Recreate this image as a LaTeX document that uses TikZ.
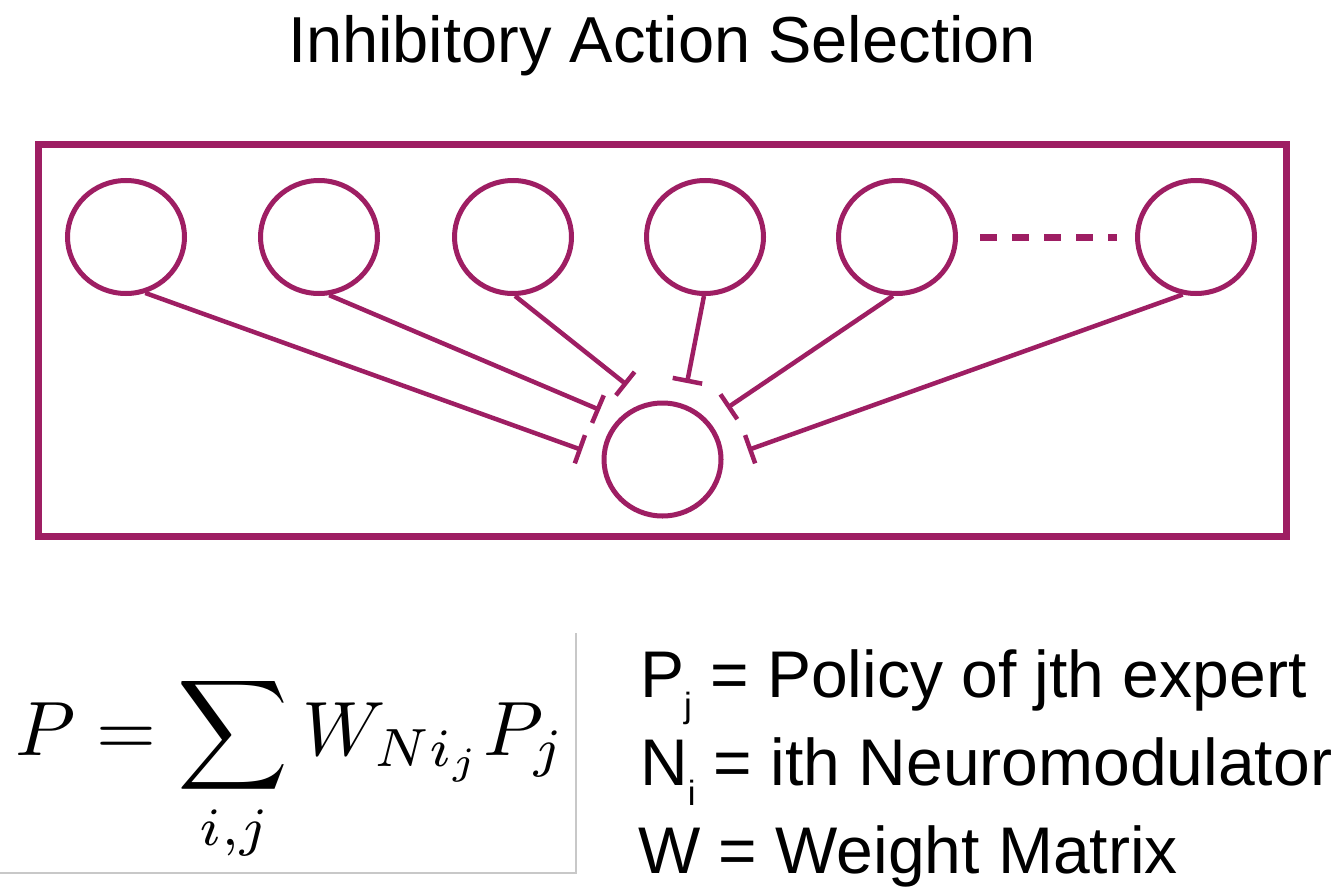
\documentclass[tikz,border=0pt]{standalone}
\usepackage{fontspec}
\setmainfont{Liberation Sans}
\usepackage{amsmath}
\usepackage{graphicx}
\usetikzlibrary{shapes.geometric,arrows.meta}
\definecolor{mag}{RGB}{158,30,99}
\definecolor{sepgray}{RGB}{200,200,200}
\tikzset{
  neuron/.style={ellipse,draw=mag,line width=5pt,minimum width=117pt,minimum height=113pt,inner sep=0pt},
  inh/.style={draw=mag,line width=4.5pt,-{Bar[width=30pt]}},
  legend/.style={anchor=base west,inner sep=0pt,font=\fontsize{66}{72}\selectfont},
}
\newcommand{\subdown}[1]{\raisebox{-20pt}{\fontsize{35}{35}\selectfont #1}}
\begin{document}
\begin{tikzpicture}[x=1pt,y=-1pt]
\useasboundingbox (0,0) rectangle (1343,888);
\fill[white] (0,0) rectangle (1343,888);
% title
\node[anchor=base,inner sep=0pt,font=\fontsize{65}{72}\selectfont] (title) at (662,63) {Inhibitory Action Selection};
% frame
\draw[mag,line width=7pt] (38,144) rectangle (1286,536);
% neurons
\node[neuron] (c1) at (126,237) {};
\node[neuron] (c2) at (319,237) {};
\node[neuron] (c3) at (513,237) {};
\node[neuron] (c4) at (705,237) {};
\node[neuron] (c5) at (897,237) {};
\node[neuron] (c6) at (1196,237) {};
\node[neuron] (out) at (662.5,459.5) {};
% dashed ellipsis
\coordinate (d1) at (980,237);
\coordinate (d2) at (1117,237);
\draw[mag,line width=7pt,dash pattern=on 17pt off 15pt] (d1) -- (d2);
% inhibitory connector ends
\coordinate (t1) at (582,450);
\coordinate (t2) at (600,410);
\coordinate (t3) at (627,385);
\coordinate (t4) at (687,383);
\coordinate (t5) at (727,408);
\coordinate (t6) at (748,450);
\draw[inh] (c1.-71) -- (t1);
\draw[inh] (c2.-80) -- (t2);
\draw[inh] (c3.-88) -- (t3);
\draw[inh] (c4.-91) -- (t4);
\draw[inh] (c5.-94) -- (t5);
\draw[inh] (c6.-103) -- (t6);
% formula
\node[anchor=base west,inner sep=0pt] (formula) at (15,755) {\resizebox{550pt}{!}{$\displaystyle P=\sum_{i,j}W_{Ni_j}P_j$}};
\coordinate (g1) at (576,633);
\coordinate (g2) at (576,873);
\coordinate (g3) at (0,873);
\draw[sepgray,line width=2pt] (g1) -- (g2) -- (g3);
% legend
\node[legend] (l1) at (640,697) {P\subdown{j} = Policy of jth expert};
\node[legend] (l2) at (640,785) {N\subdown{i} = ith Neuromodulator};
\node[legend] (l3) at (638,873) {W = Weight Matrix};
\end{tikzpicture}
\end{document}
